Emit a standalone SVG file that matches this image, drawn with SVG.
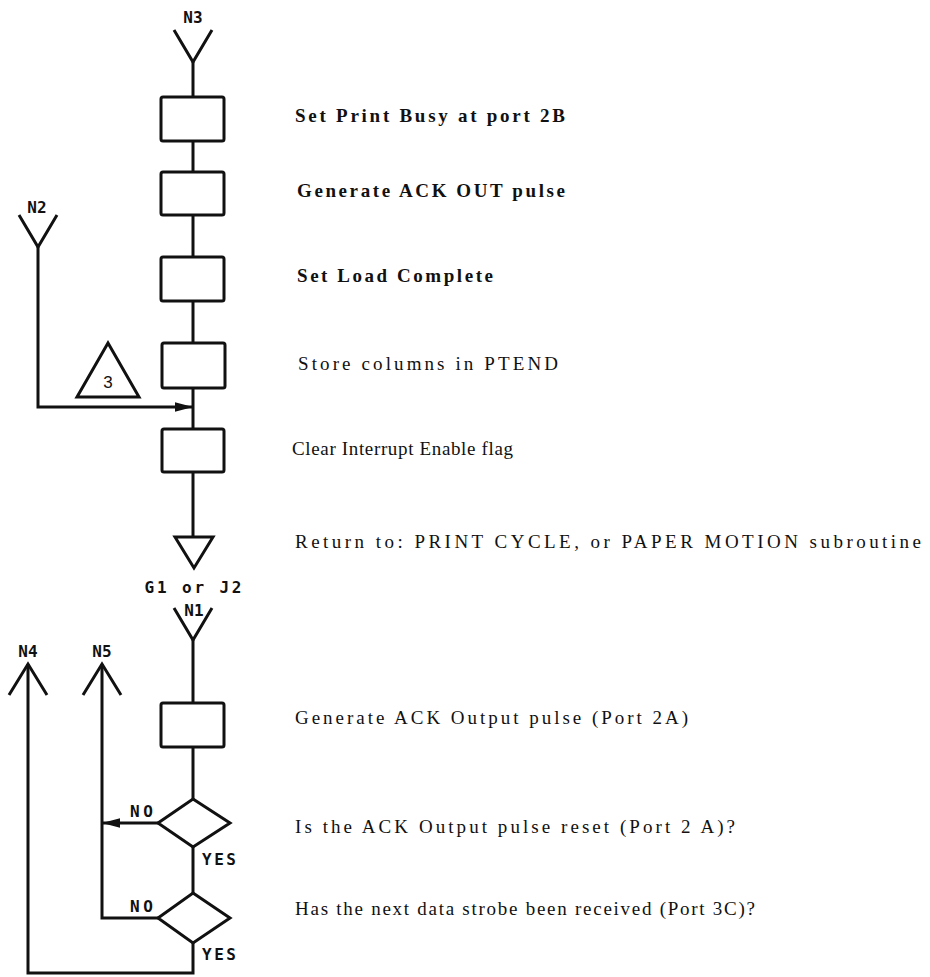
<svg xmlns="http://www.w3.org/2000/svg" width="930" height="977" viewBox="0 0 930 977">
<style>
.bg{fill:#fff}
.box{fill:#fff;stroke:#111;stroke-width:3;rx:2}
.ln{fill:none;stroke:#111;stroke-width:3;stroke-linejoin:miter}
.shape{fill:#fff;stroke:#111;stroke-width:3;stroke-linejoin:miter}
.lbl{font-family:"DejaVu Sans Mono","Liberation Mono",monospace;font-size:16px;font-weight:bold;fill:#111}
.desc{font-family:"Liberation Serif","DejaVu Serif",serif;font-size:19px;fill:#111}
.descb{font-family:"Liberation Serif","DejaVu Serif",serif;font-size:19px;font-weight:bold;fill:#111}
.num{font-family:"Liberation Sans",Arial,sans-serif;font-size:17px;fill:#111}
</style>
<defs>
<marker id="ah" viewBox="0 0 10 10" refX="10" refY="5" markerWidth="6" markerHeight="3.2" markerUnits="strokeWidth" orient="auto" preserveAspectRatio="none">
<path d="M0,0 L10,5 L0,10 Z" fill="#111"/>
</marker>
</defs>
<rect class="bg" x="0" y="0" width="930" height="977"/>

<g id="connectors">
<path class="ln" d="M174,30 L193,62 L212,30"/>
<path class="ln" d="M193,62 V97"/>
<path class="ln" d="M193,141 V172"/>
<path class="ln" d="M193,215 V257"/>
<path class="ln" d="M193,301 V343"/>
<path class="ln" d="M193,388 V429"/>
<path class="ln" d="M19,215 L38,247 L57,215"/>
<path class="ln" d="M38,247 V407 H193" marker-end="url(#ah)"/>
<path class="ln" d="M193,472 V537"/>
<path class="ln" d="M174,608 L193,640 L212,608"/>
<path class="ln" d="M193,640 V703"/>
<path class="ln" d="M193,747 V799"/>
<path class="ln" d="M158,823 H102" marker-end="url(#ah)"/>
<path class="ln" d="M193,847 V893"/>
<path class="ln" d="M158,918 H102 V664"/>
<path class="ln" d="M83,695 L102,664 L121,695"/>
<path class="ln" d="M193,943 V973 H28 V664"/>
<path class="ln" d="M9,695 L28,664 L47,695"/>
</g>

<g id="N3"><text class="lbl" x="193" y="23" text-anchor="middle">N3</text></g>
<g id="N2"><text class="lbl" x="37" y="213" text-anchor="middle">N2</text></g>
<g id="N1"><text class="lbl" x="194" y="616" text-anchor="middle">N1</text></g>
<g id="N4"><text class="lbl" x="28" y="657" text-anchor="middle">N4</text></g>
<g id="N5"><text class="lbl" x="102" y="657" text-anchor="middle">N5</text></g>

<g id="box1"><rect class="box" x="161" y="97" width="63" height="44"/>
<text class="descb" x="295" y="122" textLength="270" lengthAdjust="spacing">Set Print Busy at port 2B</text></g>
<g id="box2"><rect class="box" x="161" y="172" width="63" height="43"/>
<text class="descb" x="297" y="197" textLength="268" lengthAdjust="spacing">Generate ACK OUT pulse</text></g>
<g id="box3"><rect class="box" x="161" y="257" width="63" height="44"/>
<text class="descb" x="297" y="282" textLength="196" lengthAdjust="spacing">Set Load Complete</text></g>
<g id="box4"><rect class="box" x="162" y="343" width="63" height="45"/>
<text class="desc" x="298" y="370" textLength="260" lengthAdjust="spacing">Store columns in PTEND</text></g>
<g id="marker3"><polygon class="shape" points="108,343 77,397 139,397"/>
<text class="num" x="108" y="388" text-anchor="middle">3</text></g>
<g id="box5"><rect class="box" x="162" y="429" width="62" height="43"/>
<text class="desc" x="292" y="455" textLength="221" lengthAdjust="spacing">Clear Interrupt Enable flag</text></g>
<g id="return"><polygon class="shape" points="175,537 213,537 194,568"/>
<text class="lbl" x="193" y="593" text-anchor="middle" textLength="97" lengthAdjust="spacing">G1 or J2</text>
<text class="desc" x="295" y="548" textLength="626" lengthAdjust="spacing">Return to:  PRINT CYCLE, or PAPER MOTION subroutine</text></g>
<g id="box6"><rect class="box" x="161" y="703" width="63" height="44"/>
<text class="desc" x="295" y="724" textLength="393" lengthAdjust="spacing">Generate ACK Output pulse (Port 2A)</text></g>
<g id="decision1"><polygon class="shape" points="193,799 230,823 193,847 158,823"/>
<text class="lbl" x="130" y="817" textLength="23" lengthAdjust="spacing">NO</text>
<text class="lbl" x="202" y="865" textLength="34" lengthAdjust="spacing">YES</text>
<text class="desc" x="295" y="833" textLength="440" lengthAdjust="spacing">Is the ACK Output pulse reset (Port 2  A)?</text></g>
<g id="decision2"><polygon class="shape" points="193,893 230,918 193,943 158,918"/>
<text class="lbl" x="130" y="912" textLength="23" lengthAdjust="spacing">NO</text>
<text class="lbl" x="202" y="960" textLength="34" lengthAdjust="spacing">YES</text>
<text class="desc" x="295" y="915" textLength="460" lengthAdjust="spacing">Has the next data strobe been received (Port 3C)?</text></g>
</svg>
